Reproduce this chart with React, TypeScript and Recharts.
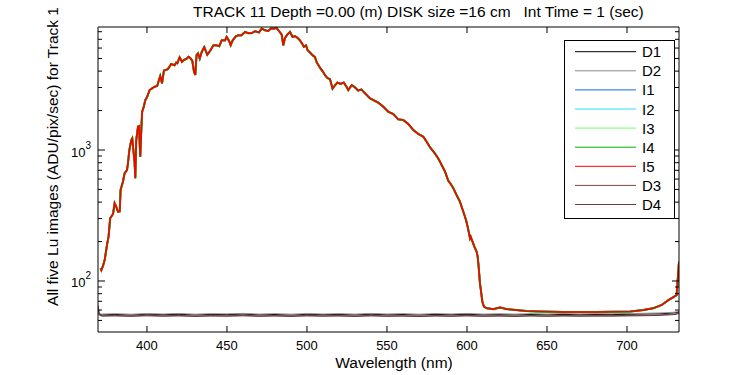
import React from 'react';
import { LineChart, Line, XAxis, YAxis } from 'recharts';

const FONT = '"Liberation Sans", Arial, Helvetica, sans-serif';

// Wavelength (nm) grid for the five Lu images (I1..I5)
const iWavelength = [
  371.0, 371.5, 372.5, 373.6, 375.0, 376.0, 377.0, 378.8, 379.8, 380.8, 381.9, 383.0, 383.5, 385.0, 386.0,
  387.5, 388.0, 389.0, 390.2, 390.8, 391.5, 392.3, 392.7, 393.3, 394.4, 395.0, 395.8, 396.5, 397.0, 398.0,
  399.0, 400.0, 401.7, 403.3, 404.8, 406.4, 407.5, 408.3, 409.4, 410.6, 413.0, 415.2, 417.3, 418.3, 419.0,
  420.4, 421.9, 423.0, 424.5, 426.0, 427.0, 428.3, 429.4, 430.2, 431.0, 431.9, 433.0, 434.2, 435.8, 437.7,
  439.4, 441.5, 443.5, 445.2, 446.7, 448.8, 449.8, 451.4, 452.3, 453.6, 455.6, 457.0, 459.0, 461.3, 463.3,
  465.4, 467.5, 470.0, 471.7, 473.8, 475.8, 477.3, 479.4, 481.0, 483.0, 484.2, 485.2, 486.2, 487.7, 489.4,
  491.0, 492.5, 494.0, 495.6, 497.0, 498.1, 499.4, 500.4, 502.0, 503.5, 505.0, 506.0, 507.0, 508.5, 509.8,
  511.3, 512.7, 514.4, 516.0, 517.5, 519.0, 521.0, 523.0, 524.8, 525.8, 528.0, 530.0, 532.0, 534.0, 536.3,
  539.4, 542.5, 544.6, 547.7, 550.8, 554.0, 557.0, 560.2, 563.3, 566.5, 569.6, 572.7, 574.8, 576.9, 579.6,
  582.0, 584.2, 586.3, 588.3, 589.8, 591.5, 593.5, 595.6, 597.7, 599.4, 600.4, 601.9, 602.3, 604.6, 606.0,
  606.7, 607.3, 608.1, 608.8, 609.6, 610.6, 612.3, 616.5, 620.6, 624.8, 631.0, 637.0, 645.6, 660.0, 681.0,
  702.0, 710.0, 716.5, 721.7, 725.8, 731.0, 732.5,
];

// Lu signal (ADU/pix/sec); the five images overlap almost exactly
const iSignal = [
  125, 121, 130, 145, 188, 218, 301, 325, 392, 369, 338, 340, 495, 573, 664,
  703, 767, 1000, 1192, 1228, 1000, 791, 608, 1192, 1507, 1520, 889, 1463, 1960, 2140,
  2410, 2524, 2870, 2960, 3040, 3080, 3420, 3670, 3230, 4040, 4140, 4530, 4440, 4650, 4600,
  5100, 4720, 4870, 4950, 5150, 5050, 4810, 3960, 3740, 5310, 5470, 5000, 5600, 6110, 5340,
  5700, 6300, 6300, 6200, 6880, 6880, 7300, 6770, 6300, 6880, 7380, 7510, 7510, 7960, 7800,
  7800, 8070, 7900, 8450, 8200, 8100, 8450, 8450, 8540, 7960, 7600, 6300, 7140, 7600, 7960,
  7300, 7400, 7200, 6880, 6470, 6130, 6300, 5770, 5530, 5290, 5130, 4700, 4480, 4180, 3990,
  3720, 3550, 3470, 2940, 3120, 3270, 3200, 3270, 3030, 2870, 3130, 3010, 2840, 2900, 2710,
  2480, 2370, 2300, 2140, 1960, 1880, 1715, 1695, 1580, 1420, 1325, 1264, 1157, 1048, 954,
  864, 768, 683, 583, 551, 510, 453, 403, 338, 292, 260, 212, 218, 183, 168,
  153, 128, 96, 83, 69.5, 63.7, 62, 61, 62.8, 61, 60, 59, 58.5, 58, 58,
  58.5, 60, 62, 65.6, 71.4, 78, 140,
];

// Dark images (D1..D4)
const dWavelength = [
  369.5, 370.5, 372, 380, 390, 400, 410, 420, 430, 440, 450, 460, 470, 480, 490, 500, 510, 520, 530, 540,
  550, 560, 570, 580, 590, 600, 610, 620, 630, 640, 650, 660, 670, 680, 690, 700, 710, 720, 725, 730, 732.5,
];
const d1Signal = [
  56.0, 55.5, 55.2, 55.6, 55.0, 55.8, 55.3, 55.7, 55.1, 55.6, 55.4, 55.9, 55.2, 55.5, 55.0, 55.7, 55.3, 55.6, 55.1, 55.8,
  55.2, 55.5, 55.0, 55.6, 55.3, 55.7, 55.2, 55.4, 55.1, 55.5, 55.2, 55.6, 55.3, 55.5, 55.4, 55.7, 55.9, 56.2, 56.6, 57.2, 58.0,
];
const d2Signal = [
  56.5, 56.2, 55.9, 56.3, 55.8, 56.4, 56.0, 56.5, 55.8, 56.3, 56.1, 56.6, 55.9, 56.3, 55.8, 56.4, 56.0, 56.3, 55.9, 56.5,
  56.0, 56.3, 55.8, 56.4, 56.0, 56.5, 55.9, 56.2, 55.9, 56.3, 56.0, 56.4, 56.1, 56.3, 56.2, 56.5, 56.7, 57.0, 57.3, 57.8, 58.6,
];
const d3Signal = [
  65.0, 55.0, 54.4, 54.6, 54.2, 54.7, 54.3, 54.6, 54.1, 54.5, 54.3, 54.7, 54.2, 54.5, 54.1, 54.6, 54.3, 54.5, 54.1, 54.6,
  54.2, 54.4, 54.0, 54.5, 54.2, 54.6, 54.2, 54.4, 54.1, 54.5, 54.2, 54.5, 54.3, 54.4, 54.4, 54.6, 54.8, 55.1, 55.5, 56.0, 57.0,
];
const d4Signal = [
  60.0, 54.5, 53.9, 54.1, 53.7, 54.2, 53.8, 54.1, 53.6, 54.0, 53.8, 54.2, 53.7, 54.0, 53.6, 54.1, 53.8, 54.0, 53.6, 54.1,
  53.7, 53.9, 53.5, 54.0, 53.7, 54.1, 53.7, 53.9, 53.6, 54.0, 53.7, 54.0, 53.8, 53.9, 53.9, 54.1, 54.3, 54.6, 55.0, 55.5, 56.5,
];

const seriesNames = ['D1', 'D2', 'I1', 'I2', 'I3', 'I4', 'I5', 'D3', 'D4'];
const seriesColors = ['#000000', '#8c8c8c', '#0a6ee8', '#2ee0f0', '#6cff6c', '#00b400', '#ff0000', '#7a4848', '#6a3c3c'];
const seriesWidths = [1, 1, 1.8, 1.8, 2, 2, 1.7, 1, 1];
const seriesWave = [dWavelength, dWavelength, iWavelength, iWavelength, iWavelength, iWavelength, iWavelength, dWavelength, dWavelength];
const seriesValues = [d1Signal, d2Signal, iSignal, iSignal, iSignal, iSignal, iSignal, d3Signal, d4Signal];

const xTicks = [400, 450, 500, 550, 600, 650, 700];
const yTicks = [50, 60, 70, 80, 90, 100, 200, 300, 400, 500, 600, 700, 800, 900, 1000, 2000, 3000, 4000, 5000, 6000, 7000, 8000];
const yMajor = [100, 1000];
const xDomain = [369.4, 732.5];
const yDomain = [40.8, 8690];

const titleText = 'TRACK 11 Depth =0.00 (m) DISK size =16 cm   Int Time = 1 (sec)';
const xLabel = 'Wavelength (nm)';
const yLabel = 'All five Lu images (ADU/pix/sec) for Track 1';

const rows = (ws: number[], vs: number[]) => ws.map((w, i) => ({ w, v: vs[i] }));

const LeftTick = (p: any) => {
  const { x, y, payload } = p;
  const v = payload.value;
  const major = yMajor.includes(v);
  return (
    <g>
      <line x1={x} x2={x + (major ? 7 : 4)} y1={y} y2={y} stroke="#000" strokeWidth={1} />
      {major && (
        <text x={x - 7} y={y + 6.5} textAnchor="end" fontFamily={FONT} fontSize={13} fill="#000">
          <tspan>10</tspan>
          <tspan dy={-8} fontSize={10}>{Math.round(Math.log10(v))}</tspan>
        </text>
      )}
    </g>
  );
};

const RightTick = (p: any) => {
  const { x, y, payload } = p;
  const major = yMajor.includes(payload.value);
  return <line x1={x} x2={x - (major ? 7 : 4)} y1={y} y2={y} stroke="#000" strokeWidth={1} />;
};

const BottomTick = (p: any) => {
  const { x, y, payload } = p;
  return (
    <g>
      <line x1={x} x2={x} y1={y} y2={y - 6} stroke="#000" strokeWidth={1} />
      <text x={x} y={y + 18} textAnchor="middle" fontFamily={FONT} fontSize={13} fill="#000">
        {payload.value}
      </text>
    </g>
  );
};

const TopTick = (p: any) => {
  const { x, y } = p;
  return <line x1={x} x2={x} y1={y} y2={y + 6} stroke="#000" strokeWidth={1} />;
};

export default function App() {
  const legendTop = 51.7;
  const legendStep = 19.1;
  return (
    <div style={{ position: 'absolute', left: 0, top: 0, width: 750, height: 375, background: '#fff' }}>
      <LineChart width={750} height={375} margin={{ top: 0, right: 0, bottom: 0, left: 0 }}>
        <XAxis
          xAxisId="bottom"
          type="number"
          dataKey="w"
          domain={xDomain}
          allowDataOverflow
          ticks={xTicks}
          interval={0}
          height={43}
          tickSize={0}
          tickMargin={0}
          tick={<BottomTick />}
          axisLine={{ stroke: '#000' }}
        />
        <XAxis
          xAxisId="top"
          orientation="top"
          type="number"
          dataKey="w"
          domain={xDomain}
          allowDataOverflow
          ticks={xTicks}
          interval={0}
          height={27}
          tickSize={0}
          tickMargin={0}
          tick={<TopTick />}
          axisLine={{ stroke: '#000' }}
        />
        <YAxis
          yAxisId="left"
          type="number"
          scale="log"
          domain={yDomain}
          allowDataOverflow
          ticks={yTicks}
          interval={0}
          width={98}
          tickSize={0}
          tickMargin={0}
          tick={<LeftTick />}
          axisLine={{ stroke: '#000' }}
        />
        <YAxis
          yAxisId="right"
          orientation="right"
          type="number"
          scale="log"
          domain={yDomain}
          allowDataOverflow
          ticks={yTicks}
          interval={0}
          width={71}
          tickSize={0}
          tickMargin={0}
          tick={<RightTick />}
          axisLine={{ stroke: '#000' }}
        />
        {seriesNames.map((name, i) => (
          <Line
            key={name}
            name={name}
            data={rows(seriesWave[i], seriesValues[i])}
            dataKey="v"
            xAxisId="bottom"
            yAxisId="left"
            type="linear"
            stroke={seriesColors[i]}
            strokeWidth={seriesWidths[i]}
            dot={false}
            activeDot={false}
            isAnimationActive={false}
          />
        ))}
        <Line
          data={rows(dWavelength, d1Signal)}
          dataKey="v"
          xAxisId="top"
          yAxisId="right"
          stroke="none"
          dot={false}
          activeDot={false}
          legendType="none"
          isAnimationActive={false}
        />
      </LineChart>
      <svg
        width={750}
        height={375}
        style={{ position: 'absolute', left: 0, top: 0, pointerEvents: 'none' }}
      >
        <text x={193} y={17} fontFamily={FONT} fontSize={15.5} fill="#000" style={{ whiteSpace: 'pre' }} xmlSpace="preserve">
          {titleText}
        </text>
        <text x={394} y={368} textAnchor="middle" fontFamily={FONT} fontSize={15.5} fill="#000">
          {xLabel}
        </text>
        <text
          x={0}
          y={0}
          transform="translate(58,156.5) rotate(-90)"
          textAnchor="middle"
          fontFamily={FONT}
          fontSize={15.5}
          fill="#000"
        >
          {yLabel}
        </text>
        <rect x={564.5} y={40.5} width={110} height={178} fill="#fff" stroke="#000" strokeWidth={1} />
        {seriesNames.map((name, i) => {
          const y = legendTop + i * legendStep;
          return (
            <g key={name}>
              <line x1={575} x2={636} y1={y} y2={y} stroke={seriesColors[i]} strokeWidth={1} />
              <text x={642} y={y + 5.5} fontFamily={FONT} fontSize={15} fill="#000">
                {name}
              </text>
            </g>
          );
        })}
      </svg>
    </div>
  );
}
